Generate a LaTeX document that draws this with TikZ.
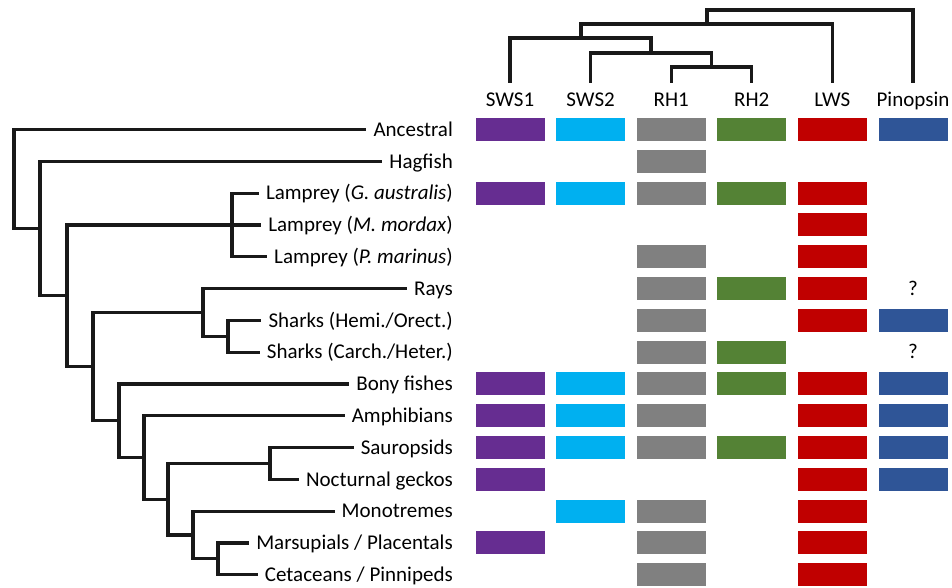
\documentclass[tikz,border=0pt]{standalone}
\usepackage{fontspec}
\setmainfont{Carlito}
\definecolor{ops1}{HTML}{662D91}
\definecolor{ops2}{HTML}{00B0F0}
\definecolor{ops3}{HTML}{808080}
\definecolor{ops4}{HTML}{548235}
\definecolor{ops5}{HTML}{C00000}
\definecolor{ops6}{HTML}{2F5597}
\tikzset{
  taxon/.style={anchor=east,text height=13.5pt,text depth=0pt,inner xsep=7pt,inner ysep=0pt,font=\fontsize{21}{25}\selectfont},
  gene/.style={text height=13.5pt,text depth=0pt,inner xsep=2pt,inner ysep=10.3pt,font=\fontsize{21}{25}\selectfont},
  opsbox/.style={minimum width=69pt,minimum height=23pt,inner sep=0pt,draw=none},
  branch/.style={line width=3.2pt,black!90}
}
\begin{document}
\begin{tikzpicture}[x=1pt,y=-1pt]
\useasboundingbox (0,0) rectangle (952,587);
% ---- opsin classes (top) ----
\node[gene] (sws1) at (510,100) {SWS1};
\node[gene] (sws2) at (590.6,100) {SWS2};
\node[gene] (rh1) at (671.2,100) {RH1};
\node[gene] (rh2) at (751.8,100) {RH2};
\node[gene] (lws) at (832.4,100) {LWS};
\node[gene] (pin) at (913,100) {Pinopsin};
\coordinate (g1) at (711.5,67);
\coordinate (g2) at (651,53);
\coordinate (g3) at (581,38);
\coordinate (g4) at (707,24);
\coordinate (g5) at (810,10);
\draw[branch] (rh1.north) |- (g1) -| (rh2.north);
\draw[branch] (sws2.north) |- (g2) -| (g1);
\draw[branch] (sws1.north) |- (g3) -| (g2);
\draw[branch] (g3) |- (g4) -| (lws.north);
\draw[branch] (g4) |- (g5) -| (pin.north);
% ---- taxa (left) ----
\node[taxon] (anc) at (460,129.5) {Ancestral};
\node[taxon] (hag) at (460,161.3) {Hagfish};
\node[taxon] (lgeo) at (460,193.1) {Lamprey (\textit{G. australis})};
\node[taxon] (lmor) at (460,224.9) {Lamprey (\textit{M. mordax})};
\node[taxon] (lmar) at (460,256.7) {Lamprey (\textit{P. marinus})};
\node[taxon] (ray) at (460,288.5) {Rays};
\node[taxon] (shh) at (460,320.3) {Sharks (Hemi./Orect.)};
\node[taxon] (shc) at (460,352.1) {Sharks (Carch./Heter.)};
\node[taxon] (bony) at (460,383.9) {Bony fishes};
\node[taxon] (amph) at (460,415.7) {Amphibians};
\node[taxon] (saur) at (460,447.5) {Sauropsids};
\node[taxon] (geck) at (460,479.3) {Nocturnal geckos};
\node[taxon] (mono) at (460,511.1) {Monotremes};
\node[taxon] (mars) at (460,542.9) {Marsupials / Placentals};
\node[taxon] (ceta) at (460,574.7) {Cetaceans / Pinnipeds};
% clade points: x = depth, y = middle of the two children
\coordinate (root) at (14,179);
\coordinate (c1) at (40,228.5);
\coordinate (c2) at (67,295.7);
\coordinate (lamp) at (232,224.9);
\coordinate (c3) at (93,366.5);
\coordinate (chon) at (203,312.4);
\coordinate (shrk) at (228,336.2);
\coordinate (c4) at (119,420.7);
\coordinate (c5) at (144,457.5);
\coordinate (c6) at (168,499.2);
\coordinate (sau) at (270,463.4);
\coordinate (mam) at (193,535);
\coordinate (ther) at (218,558.8);
\draw[branch] (root) |- (anc.west);
\draw[branch] (root) |- (c1);
\draw[branch] (c1) |- (hag.west);
\draw[branch] (c1) |- (c2);
\draw[branch] (c2) |- (lamp);
\draw[branch] (lamp) |- (lgeo.west);
\draw[branch] (lamp) -- (lmor.west);
\draw[branch] (lamp) |- (lmar.west);
\draw[branch] (c2) |- (c3);
\draw[branch] (c3) |- (chon);
\draw[branch] (chon) |- (ray.west);
\draw[branch] (chon) |- (shrk);
\draw[branch] (shrk) |- (shh.west);
\draw[branch] (shrk) |- (shc.west);
\draw[branch] (c3) |- (c4);
\draw[branch] (c4) |- (bony.west);
\draw[branch] (c4) |- (c5);
\draw[branch] (c5) |- (amph.west);
\draw[branch] (c5) |- (c6);
\draw[branch] (c6) |- (sau);
\draw[branch] (sau) |- (saur.west);
\draw[branch] (sau) |- (geck.west);
\draw[branch] (c6) |- (mam);
\draw[branch] (mam) |- (mono.west);
\draw[branch] (mam) |- (ther);
\draw[branch] (ther) |- (mars.west);
\draw[branch] (ther) |- (ceta.west);
% ---- opsin repertoire per row ----
\foreach \r/\cs in {0/{1,2,3,4,5,6},1/{3},2/{1,2,3,4,5},3/{5},4/{3,5},5/{3,4,5},6/{3,5,6},7/{3,4},
  8/{1,2,3,4,5,6},9/{1,2,3,5,6},10/{1,2,3,4,5,6},11/{1,5,6},12/{2,3,5},13/{1,3,5},14/{3,5}}{
  \foreach \c in \cs {
    \node[opsbox,fill=ops\c] (b\r-\c) at ({429.4+80.6*\c},{129.5+31.8*\r}) {};
  }
}
\node[gene,inner ysep=0pt] (qray) at (913,288.5) {?};
\node[gene,inner ysep=0pt] (qshc) at (913,352.1) {?};
\end{tikzpicture}
\end{document}
